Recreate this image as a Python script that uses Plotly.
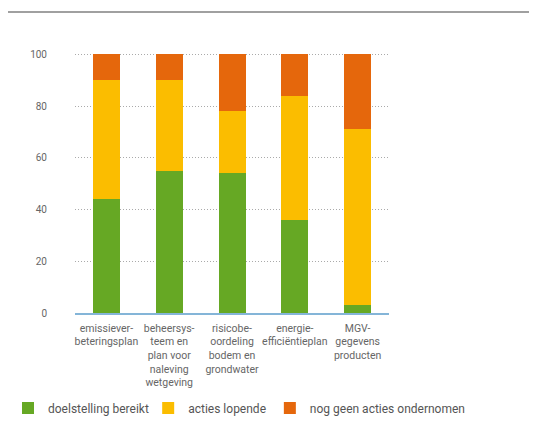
import plotly.graph_objects as go

categories = ["emissiever-<br>beteringsplan", "beheersys-<br>teem en<br>plan voor<br>naleving<br>wetgeving",
              "risicobe-<br>oordeling<br>bodem en<br>grondwater", "energie-<br>efficiëntieplan",
              "MGV-<br>gegevens<br>producten"]
bereikt = [44, 55, 54, 36, 3]
lopende = [46, 35, 24, 48, 68]
geen = [10, 10, 22, 16, 29]
tick_vals = [0, 20, 40, 60, 80, 100]

series = [("doelstelling bereikt", bereikt, "#66a824", "legend"),
          ("acties lopende", lopende, "#fbbd00", "legend2"),
          ("nog geen acties ondernomen", geen, "#e5670c", "legend3")]

fig = go.Figure()
for name, vals, col, leg in series:
    fig.add_trace(go.Bar(x=categories, y=vals, name=name, legend=leg, showlegend=True,
                         marker=dict(color=col, line=dict(width=0))))

font_family = "Roboto, sans-serif"
leg_font = dict(size=12, color="#555555")
def leg(xpos):
    return dict(orientation="h", xref="container", yref="container", x=xpos, y=0.0664,
                xanchor="left", yanchor="top", font=leg_font, bgcolor="rgba(0,0,0,0)")

fig.update_layout(
    barmode="stack", bargap=0.57, showlegend=True,
    width=529, height=413,
    margin=dict(l=67, r=148, t=45, b=108, autoexpand=False),
    paper_bgcolor="white", plot_bgcolor="white",
    font=dict(family=font_family, color="#666666", size=11),
    legend=leg(0.0), legend2=leg(0.265), legend3=leg(0.495),
    xaxis=dict(showline=True, linecolor="#84b5d8", linewidth=2, ticks="", showgrid=False,
               tickangle=0, automargin=False, ticklabelstandoff=4,
               tickfont=dict(size=10.5, color="#666666")),
    yaxis=dict(range=[0, 100.5], tickvals=tick_vals, showgrid=True, gridcolor="#aaaaaa",
               griddash="1px,2px", gridwidth=1, zeroline=False, ticks="", ticklabelstandoff=27,
               automargin=False,
               tickfont=dict(size=10, color="#666666")),
    shapes=[dict(type="line", xref="paper", yref="paper", x0=-0.3, x1=1.6,
                 y0=1 + 41 / 260, y1=1 + 41 / 260, line=dict(color="#a0a0a0", width=2))],
)
fig.write_html("out.html")
